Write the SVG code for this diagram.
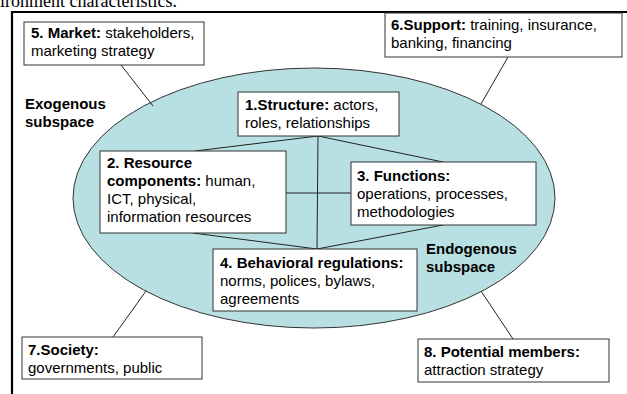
<svg xmlns="http://www.w3.org/2000/svg" width="627" height="394" viewBox="0 0 627 394">
<style>
.t{font-family:"Liberation Sans",Arial,sans-serif;font-size:15px;fill:#000}
.b{font-weight:bold}
.box{fill:#fff;stroke:#333;stroke-width:1}
.ln{stroke:#222;stroke-width:1;fill:none}
</style>
<rect width="627" height="394" fill="#fff"/>
<text x="0" y="7" style="font-family:'Liberation Serif','Times New Roman',serif;font-size:18px">ironment characteristics.</text>
<path d="M12,394 V12 H627" fill="none" stroke="#000" stroke-width="2.2"/>
<ellipse id="space" cx="314" cy="198" rx="241" ry="130" fill="#b8dfe2" stroke="#333" stroke-width="1"/>
<g id="connectors">
<line class="ln" x1="121" y1="65" x2="153" y2="106"/>
<line class="ln" x1="508" y1="57" x2="481" y2="104"/>
<line class="ln" x1="113" y1="337" x2="146" y2="291"/>
<line class="ln" x1="513" y1="339" x2="481" y2="291"/>
<line class="ln" x1="318" y1="136" x2="195" y2="151"/>
<line class="ln" x1="318" y1="136" x2="443" y2="162"/>
<line class="ln" x1="318" y1="136" x2="317" y2="249"/>
<line class="ln" x1="286" y1="193" x2="351" y2="193"/>
<line class="ln" x1="193" y1="233" x2="317" y2="249"/>
<line class="ln" x1="443" y1="225" x2="317" y2="249"/>
</g>
<g id="exo"><text class="t b" x="25" y="109">Exogenous</text><text class="t b" x="25" y="127">subspace</text></g>
<g id="endo"><text class="t b" x="426" y="254">Endogenous</text><text class="t b" x="426" y="272">subspace</text></g>
<g id="n5"><rect class="box" x="24" y="22" width="180" height="43"/><text class="t" x="31" y="38"><tspan class="b">5. Market:</tspan> stakeholders,</text><text class="t" x="31" y="56">marketing strategy</text></g>
<g id="n6"><rect class="box" x="385" y="13" width="237" height="44"/><text class="t" x="391" y="30"><tspan class="b">6.Support:</tspan> training, insurance,</text><text class="t" x="391" y="48">banking, financing</text></g>
<g id="n1"><rect class="box" x="238" y="92" width="161" height="44"/><text class="t" x="245" y="110"><tspan class="b">1.Structure:</tspan> actors,</text><text class="t" x="245" y="128">roles, relationships</text></g>
<g id="n2"><rect class="box" x="100" y="151" width="186" height="82"/><text class="t" x="107" y="168"><tspan class="b">2. Resource</tspan></text><text class="t" x="107" y="186"><tspan class="b">components:</tspan> human,</text><text class="t" x="107" y="204">ICT, physical,</text><text class="t" x="107" y="222">information resources</text></g>
<g id="n3"><rect class="box" x="351" y="162" width="185" height="63"/><text class="t b" x="357" y="181">3. Functions:</text><text class="t" x="357" y="199">operations, processes,</text><text class="t" x="357" y="217">methodologies</text></g>
<g id="n4"><rect class="box" x="213" y="249" width="204" height="62"/><text class="t b" x="220" y="268">4. Behavioral regulations:</text><text class="t" x="220" y="286">norms, polices, bylaws,</text><text class="t" x="220" y="304">agreements</text></g>
<g id="n7"><rect class="box" x="22" y="337" width="180" height="42"/><text class="t b" x="28" y="355">7.Society:</text><text class="t" x="28" y="373">governments, public</text></g>
<g id="n8"><rect class="box" x="418" y="339" width="191" height="43"/><text class="t b" x="424" y="357">8. Potential members:</text><text class="t" x="424" y="375">attraction strategy</text></g>
</svg>
